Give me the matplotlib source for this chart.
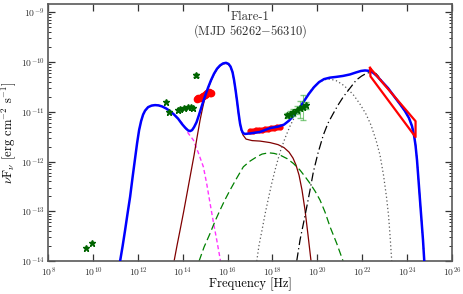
import numpy as np
import matplotlib
matplotlib.use('Agg')
import matplotlib.pyplot as plt
from matplotlib.ticker import FixedLocator, LogLocator, NullFormatter

plt.rcParams['font.family'] = 'serif'
plt.rcParams['font.serif'] = ['cmr10']
plt.rcParams['mathtext.fontset'] = 'cm'
plt.rcParams['axes.formatter.use_mathtext'] = True

# model curves, log10(nu) / log10(nuFnu)
total_lnu = [11.208, 11.320, 11.431, 11.543, 11.654, 11.765, 11.877, 11.966, 12.055, 12.144,
             12.233, 12.322, 12.456, 12.612, 12.768, 12.924, 13.080, 13.258, 13.436, 13.615,
             13.793, 13.971, 14.105, 14.238, 14.328, 14.417, 14.506, 14.617, 14.729, 14.862,
             14.996, 15.130, 15.263, 15.397, 15.531, 15.664, 15.798, 15.932, 16.043, 16.132,
             16.221, 16.289, 16.356, 16.422, 16.489, 16.556, 16.623, 16.690, 16.779, 17.001,
             17.447, 17.892, 18.249, 18.516, 18.739, 18.962, 19.185, 19.407, 19.630, 19.853,
             20.076, 20.299, 20.567, 20.834, 21.146, 21.458, 21.725, 21.948, 22.127, 22.305,
             22.483, 22.662, 22.885, 23.152, 23.419, 23.687, 23.910, 24.088, 24.222, 24.311,
             24.378, 24.445, 24.512, 24.578, 24.645, 24.712, 24.769, 24.80]
total_lf = [-14.000, -13.699, -13.377, -13.036, -12.709, -12.313, -11.932, -11.630, -11.369, -11.189,
            -11.058, -10.978, -10.908, -10.877, -10.867, -10.873, -10.894, -10.934, -10.988, -11.058,
            -11.139, -11.249, -11.319, -11.376, -11.390, -11.369, -11.309, -11.209, -11.058, -10.867,
            -10.687, -10.516, -10.365, -10.235, -10.135, -10.070, -10.030, -10.018, -10.040, -10.094,
            -10.205, -10.365, -10.566, -10.787, -11.028, -11.239, -11.369, -11.430, -11.446, -11.436,
            -11.406, -11.329, -11.299, -11.259, -11.179, -11.068, -10.938, -10.787, -10.637, -10.506,
            -10.406, -10.345, -10.315, -10.301, -10.281, -10.251, -10.211, -10.181, -10.171, -10.179,
            -10.215, -10.285, -10.396, -10.526, -10.687, -10.847, -10.988, -11.128, -11.289, -11.470,
            -11.671, -11.972, -12.373, -12.775, -13.177, -13.578, -14.000, -14.10]

disk_lnu = [13.615, 13.749, 13.882, 14.038, 14.194, 14.350, 14.506, 14.640, 14.773, 14.885,
            14.996, 15.130, 15.263, 15.397, 15.531, 15.664, 15.798, 15.932, 16.043, 16.132,
            16.221, 16.289, 16.356, 16.422, 16.489, 16.556, 16.623, 16.690, 16.824, 17.091,
            17.447, 17.892, 18.249, 18.516, 18.739, 18.917, 19.051, 19.185, 19.318, 19.452,
            19.586, 19.720]
disk_lf = [-14.000, -13.679, -13.377, -13.016, -12.635, -12.253, -11.872, -11.510, -11.169, -10.928,
           -10.707, -10.530, -10.375, -10.245, -10.145, -10.080, -10.040, -10.028, -10.050, -10.104,
           -10.215, -10.375, -10.576, -10.800, -11.040, -11.250, -11.380, -11.470, -11.550, -11.580,
           -11.590, -11.620, -11.661, -11.721, -11.811, -11.932, -12.072, -12.273, -12.574, -12.976,
           -13.478, -14.000]

syn_lnu = [12.055, 12.144, 12.233, 12.322, 12.456, 12.612, 12.768, 12.924, 13.080, 13.258,
           13.436, 13.615, 13.793, 14.016, 14.252, 14.475, 14.684, 14.920, 15.072, 15.219,
           15.366, 15.517, 15.664, 15.686]
syn_lf = [-11.369, -11.189, -11.058, -10.978, -10.908, -10.877, -10.867, -10.873, -10.894, -10.934,
          -10.988, -11.058, -11.139, -11.249, -11.436, -11.570, -11.811, -12.106, -12.454, -12.841,
          -13.217, -13.578, -13.946, -14.02]

ssc_lnu = [14.729, 14.951, 15.219, 15.442, 15.664, 15.887, 16.110, 16.409, 16.703, 17.001,
           17.300, 17.536, 17.830, 18.071, 18.338, 18.650, 18.931, 19.229, 19.452, 19.675,
           19.898, 20.121, 20.344, 20.567, 20.865, 21.133, 21.17]
ssc_lf = [-14.000, -13.719, -13.444, -13.197, -12.976, -12.765, -12.574, -12.333, -12.106, -11.992,
          -11.906, -11.851, -11.825, -11.837, -11.871, -11.942, -12.038, -12.173, -12.303, -12.440,
          -12.594, -12.775, -13.016, -13.311, -13.645, -13.980, -14.05]

ecd_lnu = [17.300, 17.402, 17.536, 17.670, 17.804, 17.960, 18.115, 18.338, 18.561, 18.784,
           19.007, 19.229, 19.452, 19.675, 19.898, 20.121, 20.344, 20.567, 20.834, 21.101,
           21.369, 21.636, 21.903, 22.171, 22.394, 22.617, 22.795, 22.951, 23.085, 23.174,
           23.241, 23.318]
ecd_lf = [-14.000, -13.679, -13.377, -13.056, -12.775, -12.454, -12.173, -11.811, -11.530, -11.289,
          -11.088, -10.908, -10.737, -10.586, -10.476, -10.396, -10.355, -10.345, -10.375, -10.446,
          -10.546, -10.677, -10.847, -11.048, -11.269, -11.570, -11.871, -12.273, -12.715, -13.076,
          -13.478, -14.000]

ecb_lnu = [19.082, 19.229, 19.385, 19.528, 19.675, 19.822, 20.031, 20.267, 20.477, 20.713,
           20.923, 21.159, 21.458, 21.734, 21.971, 22.180, 22.328, 22.476, 22.616, 22.795,
           22.885, 23.152, 23.419, 23.687, 23.910, 24.088, 24.222, 24.311, 24.378, 24.445,
           24.512, 24.578, 24.645, 24.712, 24.769]
ecb_lf = [-14.000, -13.578, -13.237, -12.916, -12.574, -12.213, -11.831, -11.470, -11.229, -11.034,
          -10.867, -10.701, -10.526, -10.365, -10.285, -10.231, -10.211, -10.211, -10.235, -10.325,
          -10.400, -10.530, -10.690, -10.850, -10.990, -11.130, -11.290, -11.470, -11.670, -11.970,
          -12.370, -12.780, -13.180, -13.580, -14.000]

# data
radio_lnu = [9.69, 9.95]
radio_lf = [-13.745, -13.63]

ir_lnu = [13.24, 13.39, 13.77, 13.90, 14.06, 14.22, 14.35, 14.46]
ir_lf = [-10.80, -11.01, -10.96, -10.95, -10.93, -10.91, -10.91, -10.92]

opt_hi_lnu = [14.60]
opt_hi_lf = [-10.27]
opt_hi_lo = [-10.30]
opt_hi_hi = [-10.24]

uvot_lnu = [14.64, 14.70, 14.77, 14.84, 14.91, 14.98, 15.04, 15.10, 15.16, 15.22, 15.26]
uvot_lf = [-10.74, -10.72, -10.72, -10.70, -10.69, -10.67, -10.65, -10.62, -10.61, -10.62, -10.63]

xrt_lnu = [17.00, 17.13, 17.27, 17.40, 17.54, 17.67, 17.80, 17.94, 18.07, 18.20, 18.34]
xrt_lf = [-11.39, -11.38, -11.37, -11.365, -11.36, -11.35, -11.34, -11.33, -11.32, -11.315, -11.31]

hx_lnu = [18.64, 18.78, 18.93, 19.08, 19.23, 19.38, 19.50]
hx_lf = [-11.07, -11.05, -11.01, -10.97, -10.93, -10.90, -10.87]
hx_lo = [-11.12, -11.11, -11.08, -11.05, -11.12, -11.17, -10.95]
hx_hi = [-11.02, -10.99, -10.94, -10.89, -10.78, -10.67, -10.80]

fermi_lnu = [22.35, 24.38, 24.38, 22.37, 22.35]
fermi_lf = [-10.12, -11.19, -11.51, -10.29, -10.12]


def p(a):
    return 10 ** np.array(a)


fig = plt.figure(figsize=(4.63, 2.94), dpi=100)
ax = fig.add_axes([0.104, 0.112, 0.872, 0.874])

ax.plot(p(syn_lnu), p(syn_lf), color='#ff33ff', lw=1.0, dashes=(3, 2), zorder=2)
ax.plot(p(disk_lnu), p(disk_lf), color='#800000', lw=0.9, zorder=2)
ax.plot(p(ssc_lnu), p(ssc_lf), color='#008000', lw=0.9, dashes=(6, 3), zorder=2)
ax.plot(p(ecd_lnu), p(ecd_lf), color='0.35', lw=0.9, dashes=(1, 2), zorder=2)
ax.plot(p(ecb_lnu), p(ecb_lf), color='black', lw=0.9, dashes=(7, 2.5, 1, 2.5), zorder=2)

ax.plot(p(uvot_lnu), p(uvot_lf), 'o', color='red', ms=4.5, mec='red', zorder=3)
ax.plot(p(xrt_lnu), p(xrt_lf), 'o', color='red', ms=3.5, mec='red', zorder=3)

ax.plot(p(total_lnu), p(total_lf), color='blue', lw=1.8, zorder=4)

ax.plot(p(fermi_lnu), p(fermi_lf), color='red', lw=1.6, zorder=4)

ax.plot(p(radio_lnu), p(radio_lf), '*', color='#006400', ms=4.5, zorder=5)
ax.plot(p(ir_lnu), p(ir_lf), '*', color='#006400', ms=4.5, zorder=5)
oh = p(opt_hi_lf)
ax.errorbar(p(opt_hi_lnu), oh, yerr=[oh - p(opt_hi_lo), p(opt_hi_hi) - oh],
            fmt='*', color='#006400', ms=4.5, capsize=2, elinewidth=0.8, zorder=5)

hx_f = p(hx_lf)
ax.errorbar(p(hx_lnu), hx_f, yerr=[hx_f - p(hx_lo), p(hx_hi) - hx_f],
            fmt='none', ecolor='#33aa33', alpha=0.6, capsize=2, elinewidth=0.8, zorder=5)
ax.plot(p(hx_lnu), hx_f, '*', color='#006400', ms=4.5, zorder=5)

ax.set_xscale('log')
ax.set_yscale('log')
ax.set_xlim(1e8, 1e26)
ax.set_ylim(1e-14, 1.45e-9)

ax.xaxis.set_major_locator(FixedLocator([10.0 ** k for k in range(8, 27, 2)]))
ax.xaxis.set_minor_locator(FixedLocator([]))
ax.yaxis.set_major_locator(LogLocator(base=10, numticks=20))
ax.yaxis.set_minor_locator(LogLocator(base=10, subs=np.arange(2, 10), numticks=20))
ax.yaxis.set_minor_formatter(NullFormatter())
ax.xaxis.offsetText.set_visible(False)
ax.yaxis.offsetText.set_visible(False)

ax.tick_params(which='both', direction='in', top=True, right=True, labelsize=7, colors='0.2')
ax.tick_params(axis='x', pad=3)
ax.tick_params(axis='y', pad=2.5)
ax.tick_params(which='major', length=5, width=0.9)
ax.tick_params(which='minor', length=2.5, width=0.7)
for s in ax.spines.values():
    s.set_color('0.35')
    s.set_linewidth(1.2)

ax.set_xlabel('Frequency [Hz]', fontsize=9)
ax.set_ylabel(r'$\nu$F$_\nu$ [erg cm$^{-2}$ s$^{-1}$]', fontsize=9)
ax.xaxis.set_label_coords(0.5, -0.064)
ax.yaxis.set_label_coords(-0.074, 0.5)
ax.text(0.5, 0.975, 'Flare-1\n(MJD 56262$-$56310)', transform=ax.transAxes,
        ha='center', va='top', fontsize=9, linespacing=1.0, color='0.2')

fig.savefig('out.png', dpi=100)
